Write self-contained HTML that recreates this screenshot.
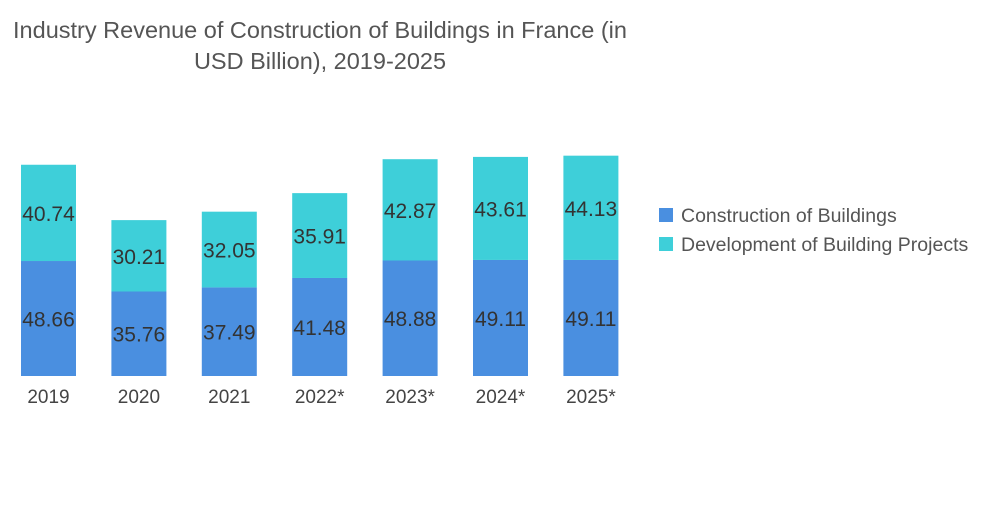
<!DOCTYPE html>
<html><head><meta charset="utf-8"><style>
body{margin:0;background:#fff;width:1000px;height:504px;overflow:hidden;font-family:"Liberation Sans",sans-serif;}
</style></head><body>
<svg width="1000" height="504">
<text x="320" y="38" text-anchor="middle" font-size="23.5" fill="#555">Industry Revenue of Construction of Buildings in France (in</text>
<text x="320" y="69" text-anchor="middle" font-size="23.5" fill="#555">USD Billion), 2019-2025</text>
<g id="bars"></g>
<g>
<rect x="659" y="208" width="14" height="14" fill="#4a8fe0"/>
<text x="681" y="222" font-size="19.5" fill="#555">Construction of Buildings</text>
<rect x="659" y="237" width="14" height="14" fill="#3ecfd9"/>
<text x="681" y="251" font-size="19.5" fill="#555">Development of Building Projects</text>
</g>
</svg>
<script>
const categories=["2019","2020","2021","2022*","2023*","2024*","2025*"];
const construction=[48.66,35.76,37.49,41.48,48.88,49.11,49.11];
const development=[40.74,30.21,32.05,35.91,42.87,43.61,44.13];
const base=376, scale=2.363, x0=21, step=90.4, bw=55;
const y=v=>base-v*scale;
const g=document.getElementById('bars');
const NS="http://www.w3.org/2000/svg";
function mk(tag,attrs,txt){const e=document.createElementNS(NS,tag);for(const k in attrs)e.setAttribute(k,attrs[k]);if(txt!==undefined)e.textContent=txt;g.appendChild(e);return e;}
categories.forEach((c,i)=>{
  const x=x0+i*step;
  const a=construction[i], b=development[i];
  const r1=mk('rect',{x:x,y:y(a),width:bw,height:base-y(a),fill:'#4a8fe0'});
  
  
  const r2=mk('rect',{x:x,y:y(a+b),width:bw,height:y(a)-y(a+b),fill:'#3ecfd9'});
  
  
  const t1=mk('text',{x:x+bw/2,y:(y(a)+base)/2+8,'text-anchor':'middle','font-size':21,fill:'#333'},a.toFixed(2));
  
  
  const t2=mk('text',{x:x+bw/2,y:(y(a)+y(a+b))/2+8,'text-anchor':'middle','font-size':21,fill:'#333'},b.toFixed(2));
  
  
  const t3=mk('text',{x:x+bw/2,y:403,'text-anchor':'middle','font-size':19,fill:'#444'},c);
  
  
});
</script>
</body></html>
